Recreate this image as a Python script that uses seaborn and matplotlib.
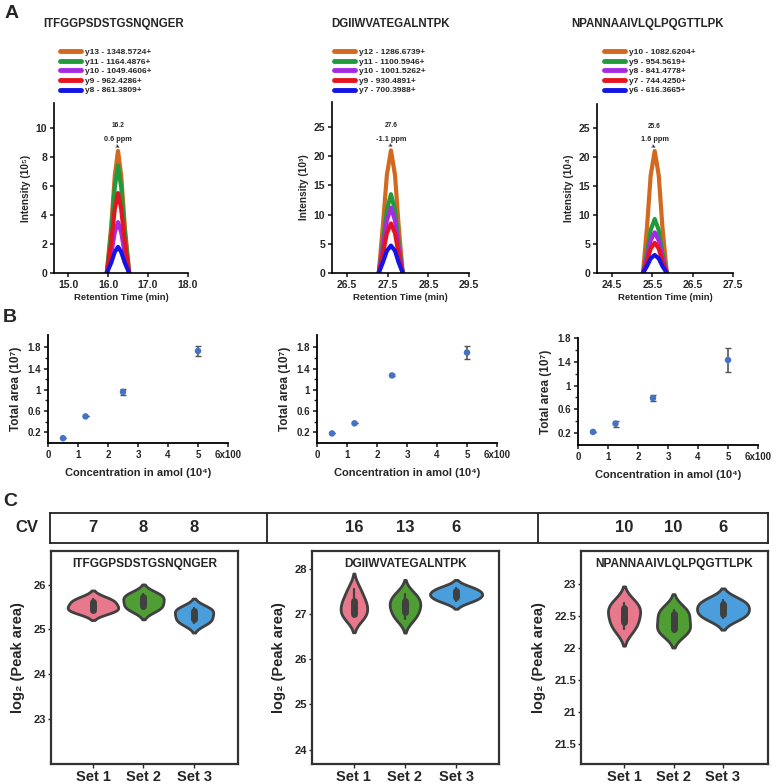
import numpy as np
import pandas as pd
import matplotlib
matplotlib.use("Agg")
import matplotlib.pyplot as plt
import matplotlib.transforms as mtransforms
from matplotlib.ticker import FixedLocator
import seaborn as sns

# ---------------- data ----------------
peptides = ["ITFGGPSDSTGSNQNGER", "DGIIWVATEGALNTPK", "NPANNAAIVLQLPQGTTLPK"]
ion_colors = ["#D2691E", "#1F9A3C", "#A52AE6", "#E5141E", "#1414E6"]

# Panel A, peptide 1
ions_1 = ["y13 - 1348.5724+", "y11 - 1164.4876+", "y10 - 1049.4606+", "y9 - 962.4286+", "y8 - 861.3809+"]
rt_1 = [15.97, 16.08, 16.17, 16.25, 16.33, 16.42, 16.53]
int_1 = [
    [0, 3.2, 6.7, 8.4, 6.7, 3.2, 0],
    [0, 2.8, 5.9, 7.4, 5.9, 2.8, 0],
    [0, 1.3, 2.8, 3.5, 2.8, 1.3, 0],
    [0, 2.1, 4.4, 5.5, 4.4, 2.1, 0],
    [0, 0.7, 1.45, 1.8, 1.45, 0.7, 0],
]
# Panel A, peptide 2
ions_2 = ["y12 - 1286.6739+", "y11 - 1100.5946+", "y10 - 1001.5262+", "y9 - 930.4891+", "y7 - 700.3988+"]
rt_2 = [27.28, 27.38, 27.48, 27.58, 27.68, 27.77, 27.87]
int_2 = [
    [0, 8.0, 16.8, 21.0, 16.8, 8.0, 0],
    [0, 5.1, 10.8, 13.5, 10.8, 5.1, 0],
    [0, 4.3, 9.0, 11.2, 9.0, 4.3, 0],
    [0, 3.2, 6.8, 8.5, 6.8, 3.2, 0],
    [0, 1.8, 3.8, 4.7, 3.8, 1.8, 0],
]
# Panel A, peptide 3
ions_3 = ["y10 - 1082.6204+", "y9 - 954.5619+", "y8 - 841.4778+", "y7 - 744.4250+", "y6 - 616.3665+"]
rt_3 = [25.27, 25.37, 25.46, 25.56, 25.66, 25.75, 25.86]
int_3 = [
    [0, 8.0, 16.8, 21.0, 16.8, 8.0, 0],
    [0, 3.5, 7.4, 9.3, 7.4, 3.5, 0],
    [0, 2.7, 5.6, 7.0, 5.6, 2.7, 0],
    [0, 2.0, 4.2, 5.2, 4.2, 2.0, 0],
    [0, 1.2, 2.5, 3.1, 2.5, 1.2, 0],
]
apex_labels = ["16.2", "27.6", "25.6"]
ppm_labels = ["0.6 ppm", "-1.1 ppm", "1.6 ppm"]
int_exponents = ["⁵", "³", "⁴"]
a_xticks = [[15.0, 16.0, 17.0, 18.0], [26.5, 27.5, 28.5, 29.5], [24.5, 25.5, 26.5, 27.5]]
a_yticks = [[0, 2, 4, 6, 8, 10], [0, 5, 10, 15, 20, 25], [0, 5, 10, 15, 20, 25]]

# Panel B: calibration curves
conc = [0.5, 1.25, 2.5, 5]
area_1 = [0.09, 0.50, 0.96, 1.73]
err_1 = [0.0, 0.0, 0.06, 0.09]
area_2 = [0.18, 0.37, 1.27, 1.70]
err_2 = [0.0, 0.0, 0.02, 0.13]
area_3 = [0.22, 0.36, 0.79, 1.43]
err_3 = [0.0, 0.05, 0.05, 0.21]
b_xticklabels = ["0", "1", "2", "3", "4", "5", "6x100"]

# Panel C: log2 peak areas per set
sets = ["Set 1", "Set 2", "Set 3"]
set_colors = ["#E8788C", "#4F9E33", "#4A9EDB"]
c1_vals = [[25.40, 25.46, 25.58, 25.68], [25.45, 25.55, 25.70, 25.78], [25.15, 25.25, 25.40, 25.47]]
c2_vals = [[26.95, 27.00, 27.20, 27.30, 27.55], [26.90, 27.05, 27.20, 27.30, 27.45], [27.30, 27.40, 27.48, 27.58]]
c3_vals = [[22.30, 22.45, 22.60, 22.70], [22.25, 22.32, 22.50, 22.60], [22.47, 22.56, 22.66, 22.75]]
cv_values = [["7", "8", "8"], ["16", "13", "6"], ["10", "10", "6"]]
c_yticks = [[23, 24, 25, 26], [24, 25, 26, 27, 28], [20.5, 21, 21.5, 22, 22.5, 23]]
c_yticklabels = [["23", "24", "25", "26"], ["24", "25", "26", "27", "28"],
                 ["21.5", "21", "21.5", "22", "22.5", "23"]]

# ---------------- style ----------------
sns.set_style("ticks")
plt.rcParams["font.family"] = ["Liberation Sans", "DejaVu Sans"]
plt.rcParams["font.weight"] = "bold"
plt.rcParams["axes.labelweight"] = "bold"

W = 784.0
fig = plt.figure(figsize=(7.84, 7.84), dpi=100)


def place(l, t, r, b):
    return fig.add_axes([l / W, 1 - b / W, (r - l) / W, (b - t) / W])


# ---------------- Panel A ----------------
a_boxes = [(54, 103, 188, 273), (332, 102, 469, 273), (597, 104, 733, 273)]
a_xlims = [(14.65, 18.0), (26.13, 29.5), (24.13, 27.5)]
a_ylims = [(0, 11.7), (0, 29.3), (0, 29.1)]
a_legend_x = [60, 334, 604]
a_title_x = [114, 391, 647]
rts = [rt_1, rt_2, rt_3]
ints = [int_1, int_2, int_3]
ions = [ions_1, ions_2, ions_3]

for i in range(3):
    ax = place(*a_boxes[i])
    handles = []
    for j in range(5):
        df = pd.DataFrame({"rt": rts[i], "inten": ints[i][j]})
        sns.lineplot(data=df, x="rt", y="inten", color=ion_colors[j], lw=3,
                     ax=ax, estimator=None, sort=False)
        handles.append(ax.lines[-1])
    ax.set_xlim(*a_xlims[i])
    ax.set_ylim(*a_ylims[i])
    ax.set_xticks(a_xticks[i])
    ax.set_xticklabels([f"{v:.1f}" for v in a_xticks[i]])
    ax.set_yticks(a_yticks[i])
    ax.tick_params(labelsize=7.5, direction="out", length=3, width=1.2, pad=2)
    for s in ["left", "bottom"]:
        ax.spines[s].set_linewidth(1.2)
        ax.spines[s].set_color("black")
    sns.despine(ax=ax)
    ax.set_xlabel("Retention Time (min)", fontsize=6.8, labelpad=2)
    ax.set_ylabel("Intensity (10" + int_exponents[i] + ")", fontsize=7.3, labelpad=3)

    # apex annotations
    apex_i = int(np.argmax(ints[i][0]))
    ax_x, ax_y = rts[i][apex_i], ints[i][0][apex_i]
    ax.annotate(apex_labels[i], (ax_x, ax_y), xytext=(0, 18), textcoords="offset points",
                ha="center", va="center", fontsize=4.8)
    ax.annotate(ppm_labels[i], (ax_x, ax_y), xytext=(0, 8), textcoords="offset points",
                ha="center", va="center", fontsize=5.3)
    ax.annotate("➤", (ax_x, ax_y), xytext=(-1.5, 3.3), textcoords="offset points",
                ha="center", va="center", fontsize=4.5, family="DejaVu Sans", rotation=-25)

    leg = ax.legend(handles, ions[i], loc="upper left", frameon=False,
                    bbox_to_anchor=(a_legend_x[i] / W, 1 - 48 / W),
                    bbox_transform=fig.transFigure, fontsize=6, borderpad=0,
                    handlelength=2.5, handletextpad=0.5, labelspacing=0.22,
                    borderaxespad=0)
    for h in leg.get_lines():
        h.set_linewidth(3.5)
    fig.text(a_title_x[i] / W, 1 - 24 / W, peptides[i], ha="center", va="center",
             fontsize=8.3, fontweight="bold")

# ---------------- Panel B ----------------
b_boxes = [(48, 335, 228, 443), (317, 335, 497, 443), (578, 338, 758, 445)]
b_ylims = [(0, 2.03), (0, 2.03), (0, 1.8)]
areas = [area_1, area_2, area_3]
errs = [err_1, err_2, err_3]
for i in range(3):
    ax = place(*b_boxes[i])
    df = pd.DataFrame({"conc": conc, "area": areas[i]})
    ax.errorbar(conc, areas[i], yerr=errs[i], fmt="none", ecolor="#555555",
                elinewidth=1.2, capsize=2, capthick=1, zorder=2)
    sns.scatterplot(data=df, x="conc", y="area", color="#4472C4", s=22,
                    edgecolor="none", ax=ax, zorder=3)
    ax.set_xlim(0, 6)
    ax.set_ylim(*b_ylims[i])
    ax.set_xticks(range(7))
    ax.set_xticklabels(b_xticklabels)
    ax.set_yticks([0.2, 0.6, 1.0, 1.4, 1.8])
    ax.set_yticklabels(["0.2", "0.6", "1", "1.4", "1.8"])
    ax.yaxis.set_minor_locator(FixedLocator([0.4, 0.8, 1.2, 1.6]))
    ax.tick_params(labelsize=7, direction="out", length=3, width=1.2, pad=2)
    ax.tick_params(which="minor", direction="out", length=2, width=1)
    for s in ["left", "bottom"]:
        ax.spines[s].set_linewidth(1.3)
        ax.spines[s].set_color("black")
    sns.despine(ax=ax)
    ax.set_xlabel("Concentration in amol (10⁴)", fontsize=8, labelpad=6)
    ax.set_ylabel("Total area (10⁷)", fontsize=8.5, labelpad=4)

# ---------------- Panel C ----------------
c_boxes = [(51, 551, 238, 764), (312, 551, 499, 764), (581, 551, 768, 764)]
c_ylims = [(22.0, 26.75), (23.68, 28.4), (20.18, 23.52)]
c_xlims = [(-0.83, 2.87), (-0.82, 2.84), (-0.87, 2.91)]
c_widths = [[1.0, 0.8, 0.76], [0.52, 0.6, 1.02], [0.65, 0.67, 1.05]]
c_vals = [c1_vals, c2_vals, c3_vals]

ax_cv = place(50, 513, 768, 543)
ax_cv.set_xticks([])
ax_cv.set_yticks([])
for s in ax_cv.spines.values():
    s.set_linewidth(1.3)
    s.set_color("#222222")
ax_cv.axvline((267 - 50) / (768 - 50), color="#222222", lw=1.3)
ax_cv.axvline((538 - 50) / (768 - 50), color="#222222", lw=1.3)
fig.text(27 / W, 1 - 528 / W, "CV", ha="center", va="center", fontsize=12, fontweight="bold")

for i in range(3):
    ax = place(*c_boxes[i])
    for k, s in enumerate(sets):
        vals = c_vals[i][k]
        sns.violinplot(x=[s] * len(vals), y=vals, order=sets, color=set_colors[k],
                       inner="box", linewidth=2, linecolor="#404040", saturation=1,
                       cut=2, bw_adjust=1.0, width=c_widths[i][k],
                       density_norm="width", ax=ax,
                       inner_kws=dict(box_width=5, whis_width=1.6, color="#404040", marker=""))
    ax.set_xlim(*c_xlims[i])
    ax.set_ylim(*c_ylims[i])
    ax.set_yticks(c_yticks[i])
    ax.set_yticklabels(c_yticklabels[i])
    ax.set_xlabel("")
    ax.set_ylabel("log₂ (Peak area)", fontsize=10.5, labelpad=6)
    ax.tick_params(axis="y", labelsize=8, direction="out", length=2.5, width=1, pad=1)
    ax.tick_params(axis="x", labelsize=10.5, direction="out", length=3, width=1, pad=1)
    for s in ax.spines.values():
        s.set_visible(True)
        s.set_linewidth(1.6)
        s.set_color("#333333")
    ax.text(0.5, 0.94, peptides[i], transform=ax.transAxes, ha="center", va="center",
            fontsize=8.6, fontweight="bold")
    tr = mtransforms.blended_transform_factory(ax.transData, ax_cv.transAxes)
    for k in range(3):
        ax_cv.text(k, 0.5, cv_values[i][k], transform=tr, ha="center", va="center",
                   fontsize=12, fontweight="bold")

# panel letters
fig.text(5 / W, 1 - 14 / W, "A", fontsize=14, fontweight="bold", va="center")
fig.text(3 / W, 1 - 317 / W, "B", fontsize=14, fontweight="bold", va="center")
fig.text(3 / W, 1 - 501 / W, "C", fontsize=14, fontweight="bold", va="center")

fig.savefig("out.png", dpi=100)
